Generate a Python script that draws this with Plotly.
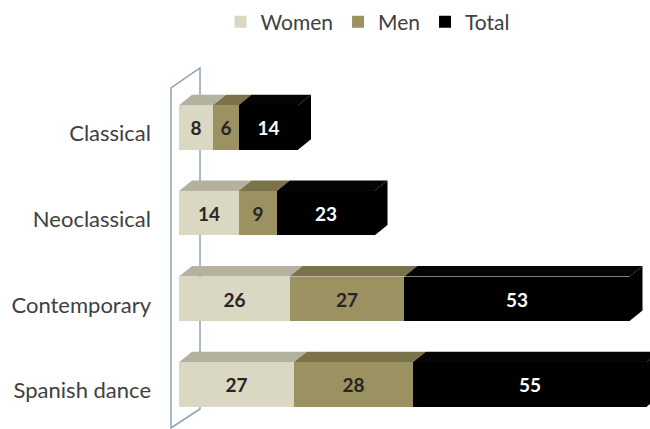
import plotly.graph_objects as go

# ---- data ----
categories = ["Classical", "Neoclassical", "Contemporary", "Spanish dance"]
women = [8, 14, 26, 27]
men = [6, 9, 27, 28]
total = [14, 23, 53, 55]
series_names = ["Women", "Men", "Total"]

# ---- style ----
front_colors = ["#dad7c2", "#9b9161", "#000000"]
top_colors = ["#b4b29f", "#7a7349", "#050505"]
label_colors = ["#262626", "#262626", "#ffffff"]
FONT = "Lato"
TEXT_GREY = "#404040"

PX_X = 4.25          # pixels per x unit
PX_Y = 85.67         # pixels per category
BAR_W = 0.52
DX = 13 / PX_X       # 3D depth offset (x units)
DY = 10.5 / PX_Y     # 3D depth offset (category units)

L, R, T, B = 160, 0, 55, 0
W, H = 650, 429
x_lo = (L - 179) / PX_X
x_hi = (W - R - 179) / PX_X
y_top = (T - 127.5) / PX_Y
y_bot = 3 + (H - B - 384.5) / PX_Y

fig = go.Figure()
all_vals = [women, men, total]
for name, vals, fc, lc in zip(series_names, all_vals, front_colors, label_colors):
    fig.add_trace(go.Bar(
        y=categories, x=vals, name=name, orientation="h",
        width=BAR_W,
        marker=dict(color=fc, line=dict(width=0)),
        text=[str(v) for v in vals], textposition="inside",
        insidetextanchor="middle", textangle=0, constraintext="none",
        textfont=dict(family=FONT, size=19, color=lc, weight="bold"),
        hoverinfo="skip",
    ))

shapes = []
# side wall
wx0, wx1 = (171 - 179) / PX_X, (200 - 179) / PX_X
wy_ft, wy_bt = (88 - 127.5) / PX_Y, (68 - 127.5) / PX_Y
wy_bb, wy_fb = 3 + (409 - 384.5) / PX_Y, 3 + (428 - 384.5) / PX_Y
shapes.append(dict(
    type="path", xref="x", yref="y", layer="below",
    path=f"M{wx0},{wy_fb} L{wx0},{wy_ft} L{wx1},{wy_bt} L{wx1},{wy_bb} Z",
    line=dict(color="#8da2b4", width=1.5), fillcolor="rgba(255,255,255,0)",
))

# 3D top and end faces, built from the data
base = [0] * len(categories)
for s, vals in enumerate(all_vals):
    for i, v in enumerate(vals):
        x0 = base[i]
        x1 = x0 + v
        yt = i - BAR_W / 2
        yb = i + BAR_W / 2
        shapes.append(dict(
            type="path", xref="x", yref="y", layer="below",
            path=f"M{x0},{yt} L{x1},{yt} L{x1+DX},{yt-DY} L{x0+DX},{yt-DY} Z",
            line=dict(width=0), fillcolor=top_colors[s],
        ))
        if s == len(all_vals) - 1:
            shapes.append(dict(
                type="path", xref="x", yref="y", layer="below",
                path=f"M{x1},{yt} L{x1+DX},{yt-DY} L{x1+DX},{yb-DY} L{x1},{yb} Z",
                line=dict(width=0), fillcolor=front_colors[s],
            ))
        base[i] = x1

fig.update_layout(
    width=W, height=H,
    margin=dict(l=L, r=R, t=T, b=B),
    paper_bgcolor="white", plot_bgcolor="white",
    barmode="stack", bargap=0,
    shapes=shapes,
    showlegend=True,
    legend=dict(orientation="h", x=(368 - L) / (W - L - R), xanchor="center",
                y=1 + (T - 22) / (H - T - B), yanchor="middle",
                font=dict(family=FONT, size=21, color=TEXT_GREY),
                traceorder="normal", bgcolor="rgba(0,0,0,0)"),
    xaxis=dict(range=[x_lo, x_hi], showgrid=False, zeroline=False,
               showticklabels=False, showline=False, ticks=""),
    yaxis=dict(type="category", categoryorder="array", categoryarray=categories,
               range=[y_bot, y_top], showgrid=False, zeroline=False,
               showline=False, ticks="", ticklabelstandoff=8,
               ticklabelshift=-6,
               tickfont=dict(family=FONT, size=22, color=TEXT_GREY)),
)

fig.write_html("out.html")
